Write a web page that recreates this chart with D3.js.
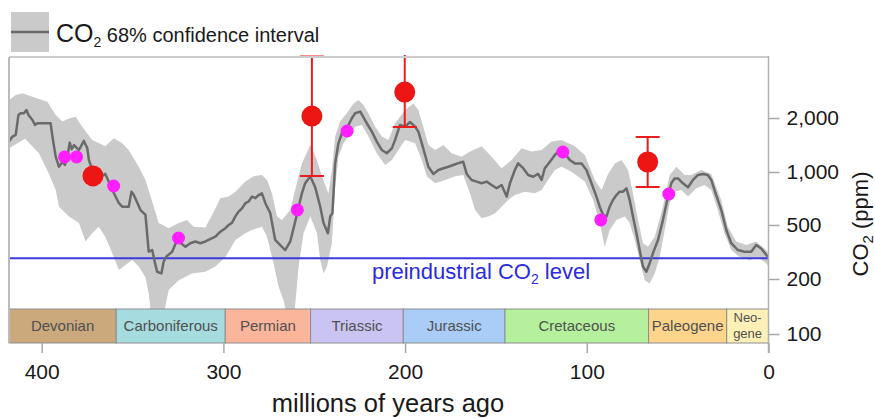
<!DOCTYPE html>
<html>
<head>
<meta charset="utf-8">
<script src="https://cdn.jsdelivr.net/npm/d3@7"></script>
<style>
  body { margin: 0; background: #fff; }
  svg { display: block; font-family: "Liberation Sans", Arial, sans-serif; }
</style>
</head>
<body>
<svg id="svg" width="875" height="419"></svg>
<script>
// CO2 reconstruction, [millions of years ago, ppm]
const co2Line = [[418,1480],[416.1,1576],[414.3,1610],[412.8,2080],[411.6,2125],[409.8,2125],[408.4,2215],[407.3,2080],[405.1,1950],[403.7,1830],[402.4,1870],[397.8,1870],[395.1,1870],[394.1,1576],[392.3,1216],[390.5,1070],[388.6,1140],[387.2,1094],[385.9,1216],[384.6,1458],[383.5,1340],[382.2,1414],[379.5,1326],[376.8,1490],[374.9,1355],[374.0,1166],[371.8,1004],[368.6,925],[365.0,975],[361.7,820],[360.3,760],[357.5,665],[355.7,635],[352.1,635],[350.6,773],[349.3,740],[345.6,608],[342.9,570],[341.1,318],[339.2,327],[337.8,268],[336.5,226],[334.1,220],[332.9,268],[331.5,292],[328.2,318],[325.5,388],[320.9,345],[318.2,367],[315.4,378],[312.7,367],[309.9,378],[304.4,410],[301.7,446],[298.9,474],[297.1,500],[295.3,514],[293.4,560],[291.6,596],[289.8,621],[287.9,665],[286.1,680],[284.3,725],[282.4,710],[280.6,740],[278.8,757],[276.9,665],[274.2,583],[271.5,388],[268.7,356],[266.0,327],[263.2,378],[260.5,522],[258.6,635],[256.8,757],[255.0,864],[252.2,945],[249.5,820],[246.7,635],[244.9,514],[242.5,434],[241.2,560],[240.0,583],[238.5,1117],[236.7,1445],[234.8,1645],[232.1,1750],[229.3,1995],[227.5,2125],[224.7,2170],[221.1,1870],[218.3,1680],[215.6,1477],[212.8,1326],[210.1,1272],[207.3,1355],[205.5,1510],[202.8,1830],[200.0,1790],[197.3,1900],[194.5,1790],[192.7,1680],[190.8,1445],[189.0,1244],[187.2,1070],[184.4,975],[181.7,1026],[178.9,1050],[176.2,1070],[173.5,1094],[170.7,1120],[168.0,1140],[166.1,975],[163.4,901],[160.6,882],[157.9,863],[155.1,882],[152.4,844],[149.6,808],[146.9,844],[144.1,725],[142.3,863],[139.6,1026],[137.8,1117],[135.0,1050],[132.3,962],[129.5,940],[126.8,975],[124.9,901],[123.1,1050],[120.3,1140],[117.6,1244],[114.8,1326],[112.1,1272],[109.4,1166],[106.6,1117],[102.9,1117],[100.2,1026],[97.4,863],[94.7,725],[92.9,635],[91.0,570],[89.2,558],[87.4,635],[85.6,694],[83.7,740],[81.9,773],[80.1,773],[78.2,808],[76.4,694],[74.6,558],[72.7,437],[70.9,327],[69.1,247],[67.2,226],[65.4,261],[63.6,310],[60.8,388],[58.1,534],[55.3,725],[53.5,863],[51.7,920],[49.8,920],[47.1,863],[44.3,820],[41.6,901],[38.8,962],[36.1,975],[33.4,962],[31.5,901],[29.7,790],[26.0,608],[23.2,459],[20.5,367],[16.9,327],[13.2,318],[9.5,318],[6.8,356],[4.0,336],[0.4,292]];

// 68% confidence interval edges
const bandUpper = [[418,2520],[414.3,2690],[410.6,2750],[405.1,2630],[396.9,2460],[392.3,2080],[388.6,1910],[385.0,1990],[381.4,2035],[377.7,1790],[372.2,1510],[365.0,1390],[360.3,1540],[355.7,1445],[352.1,1326],[346.6,1070],[342.9,901],[338.3,635],[335.6,514],[330.1,474],[324.6,514],[320.0,534],[316.4,486],[309.9,480],[304.4,621],[301.7,710],[297.1,725],[293.4,773],[287.9,882],[283.4,945],[278.8,962],[276.0,901],[273.3,757],[270.5,558],[267.8,534],[263.2,608],[260.5,790],[256.8,1117],[252.2,1414],[248.5,1166],[245.8,945],[242.2,757],[240.3,1026],[238.5,1576],[235.8,1910],[232.1,2125],[228.4,2410],[225.7,2520],[222.9,2360],[220.2,2125],[216.5,1790],[212.8,1576],[209.2,1510],[205.5,1870],[200.0,2215],[195.5,2410],[192.7,2215],[190.0,1790],[187.2,1414],[183.5,1326],[178.9,1414],[174.4,1272],[168.9,1216],[164.3,1300],[157.9,1390],[152.4,1216],[146.9,1050],[141.4,1166],[135.9,1355],[130.4,1300],[124.9,1326],[119.4,1477],[113.9,1510],[106.6,1390],[101.1,1244],[95.6,901],[91.9,790],[88.3,975],[84.6,1117],[80.9,1166],[77.3,1026],[74.6,757],[71.8,534],[69.1,367],[66.3,345],[62.6,410],[58.1,635],[54.4,962],[50.7,1070],[46.2,962],[42.5,962],[37.0,1026],[31.5,975],[26.0,694],[22.4,486],[17.7,378],[12.3,356],[6.8,378],[1.3,327],[0,310]];

const bandLower = [[418,1355],[409.2,1530],[401.5,1272],[396.0,975],[392.3,790],[390.5,635],[385.0,558],[379.5,514],[375.9,378],[372.2,434],[368.6,486],[365.0,410],[361.2,310],[357.5,233],[353.9,254],[350.2,276],[346.6,247],[342.9,206],[341.1,166],[339.2,115],[333.8,115],[330.1,174],[324.6,197],[317.3,220],[309.9,226],[304.4,247],[298.9,290],[293.4,388],[287.9,434],[284.3,459],[278.8,486],[276.0,410],[272.4,261],[269.6,181],[266.9,153],[264.1,115],[261.4,115],[258.6,247],[255.9,434],[252.2,558],[248.5,434],[246.7,276],[244.9,220],[243.0,247],[240.3,367],[238.5,820],[236.7,1216],[233.9,1445],[231.2,1576],[227.5,1790],[223.8,1830],[220.2,1576],[215.6,1272],[211.0,1094],[207.3,1166],[205.5,1244],[200.0,1510],[194.5,1445],[190.8,1166],[188.1,945],[183.5,863],[178.0,901],[172.5,945],[168.0,962],[164.3,757],[161.5,608],[157.9,546],[154.2,558],[150.5,583],[146.9,635],[143.3,694],[139.6,740],[134.1,773],[128.6,757],[124.9,790],[121.3,901],[117.6,1026],[113.9,1070],[108.4,1004],[101.1,882],[96.5,694],[92.9,514],[90.1,345],[87.4,459],[83.7,534],[79.1,558],[76.4,514],[73.6,388],[70.9,276],[68.1,197],[65.4,189],[62.6,220],[59.9,290],[57.1,459],[54.4,665],[51.7,773],[48.0,790],[44.3,725],[39.7,808],[35.2,844],[31.5,790],[27.9,608],[24.2,434],[20.5,327],[15.9,290],[10.4,276],[5.9,290],[1.3,261],[0,247]];

// proxy points
const redAge = [371.8, 251.3, 200.2, 66.5];
const redPpm = [950, 2050, 2790, 1137];
const redLow = [null, 950, 1780, 822];
const redHigh = [null, 4400, 6000, 1567];

const magentaAge = [387.4, 380.8, 360.4, 324.7, 259.3, 231.9, 113.2, 92.3, 54.9];
const magentaPpm = [1213, 1213, 833, 401, 609, 1692, 1293, 534, 750];

const preindustrial = 285;

const periodNames = ['Devonian', 'Carboniferous', 'Permian', 'Triassic', 'Jurassic', 'Cretaceous', 'Paleogene', 'Neo-|gene'];
const periodStart = [418, 359, 299, 252, 201, 145, 66, 23];
const periodEnd = [359, 299, 252, 201, 145, 66, 23, 0];
const periodColors = ['#cba97c', '#a6dbe0', '#fab59b', '#cac4f2', '#a9cdf6', '#b5f19d', '#fcd48c', '#fdf0b6'];

const xTicks = [400, 300, 200, 100, 0];
const yTicks = [100, 200, 500, 1000, 2000];

let config = {
   left: 9,
   right: 768.5,
   top: 57,
   barTop: 309,
   barBottom: 343
};

let svg = d3.select('#svg');

let x = d3.scaleLinear().domain([418, 0]).range([config.left, config.right]);
// tick spacing in the source is not a clean log; piecewise log keeps ticks where they are
let y = d3.scaleLog().domain(yTicks).range([334, 279, 225, 172, 118]);

let defs = svg.append('defs');
defs.append('clipPath').attr('id', 'plotClip')
   .append('rect')
   .attr('x', config.left).attr('y', config.top)
   .attr('width', config.right - config.left)
   .attr('height', config.barBottom - config.top);
defs.append('clipPath').attr('id', 'barClip')
   .append('rect')
   .attr('x', config.left).attr('y', config.top - 2)
   .attr('width', config.right - config.left)
   .attr('height', config.barBottom - config.top + 2);

let plot = svg.append('g').attr('clip-path', 'url(#plotClip)');

let line = d3.line().x(d => x(d[0])).y(d => y(d[1]));

// band
plot.append('path')
   .attr('d', line(bandUpper.concat(bandLower.slice().reverse())) + 'Z')
   .style('fill', '#cacaca')
   .style('stroke', 'none');

// preindustrial level
plot.append('line')
   .attr('x1', config.left).attr('x2', config.right)
   .attr('y1', y(preindustrial)).attr('y2', y(preindustrial))
   .style('stroke', '#3b3be0')
   .style('stroke-width', 2);

let pre = svg.append('text')
   .attr('x', 481).attr('y', 279)
   .attr('text-anchor', 'middle')
   .style('fill', '#2b2be0')
   .style('font-size', '22px');
pre.append('tspan').text('preindustrial CO');
pre.append('tspan').attr('dy', 5).style('font-size', '14px').text('2');
pre.append('tspan').attr('dy', -5).text(' level');

// main curve
plot.append('path')
   .attr('d', line(co2Line))
   .style('fill', 'none')
   .style('stroke', '#6a6a6a')
   .style('stroke-width', 2.5)
   .style('stroke-linejoin', 'round');

// magenta points
for (let i = 0; i < magentaAge.length; i++) {
   plot.append('circle')
      .attr('cx', x(magentaAge[i]))
      .attr('cy', y(magentaPpm[i]))
      .attr('r', 6.5)
      .style('fill', '#ff1eff');
}

// red points with error bars
let errG = svg.append('g').attr('clip-path', 'url(#barClip)');
for (let i = 0; i < redAge.length; i++) {
   let cx = x(redAge[i]);
   if (redLow[i] !== null) {
      let y1 = y(redLow[i]), y2 = y(redHigh[i]);
      errG.append('line')
         .attr('x1', cx).attr('x2', cx).attr('y1', y1).attr('y2', y2)
         .style('stroke', '#ee1c1c').style('stroke-width', 2);
      [y1, y2].forEach(yy => {
         errG.append('line')
            .attr('x1', cx - 12).attr('x2', cx + 12).attr('y1', yy).attr('y2', yy)
            .style('stroke', '#ee1c1c').style('stroke-width', 2);
      });
   }
   errG.append('circle')
      .attr('cx', cx)
      .attr('cy', y(redPpm[i]))
      .attr('r', 10.5)
      .style('fill', '#ee1515');
}

// geologic period bar
for (let i = 0; i < periodNames.length; i++) {
   let x0 = x(periodStart[i]), x1 = x(periodEnd[i]);
   svg.append('rect')
      .attr('x', x0).attr('y', config.barTop)
      .attr('width', x1 - x0)
      .attr('height', config.barBottom - config.barTop)
      .style('fill', periodColors[i])
      .style('stroke', '#8d8d8d')
      .style('stroke-width', 1);
   let parts = periodNames[i].split('|');
   let t = svg.append('text')
      .attr('x', (x0 + x1) / 2)
      .attr('text-anchor', 'middle')
      .style('fill', '#505050');
   if (parts.length == 1) {
      t.attr('y', 331).style('font-size', '15px').text(parts[0]);
   } else {
      t.style('font-size', '13px');
      t.append('tspan').attr('x', (x0 + x1) / 2).attr('y', 322).text(parts[0]);
      t.append('tspan').attr('x', (x0 + x1) / 2).attr('y', 338).text(parts[1]);
   }
}

// frame
svg.append('line')
   .attr('x1', config.left).attr('x2', config.right)
   .attr('y1', config.top).attr('y2', config.top)
   .style('stroke', '#cccccc').style('stroke-width', 2);
svg.append('line')
   .attr('x1', config.left).attr('x2', config.left)
   .attr('y1', config.top).attr('y2', config.barBottom)
   .style('stroke', '#bbbbbb').style('stroke-width', 2);
svg.append('line')
   .attr('x1', config.right).attr('x2', config.right)
   .attr('y1', config.top - 1).attr('y2', 353)
   .style('stroke', '#b0b0b0').style('stroke-width', 1.5);

// axes
let xAxis = svg.append('g')
   .attr('transform', 'translate(0,' + config.barBottom + ')')
   .call(d3.axisBottom(x).tickValues(xTicks).tickSize(10).tickPadding(11));
let yAxis = svg.append('g')
   .attr('transform', 'translate(' + config.right + ',0)')
   .call(d3.axisRight(y).tickValues(yTicks).tickSize(11).tickPadding(7).tickFormat(d3.format(',')));

[xAxis, yAxis].forEach(g => {
   g.select('.domain').remove();
   g.selectAll('.tick line').style('stroke', '#a8a8a8').style('stroke-width', 1.5);
   g.selectAll('.tick text')
      .style('font-family', '"Liberation Sans", Arial, sans-serif')
      .style('font-size', '21px')
      .style('fill', '#1a1a1a');
});

svg.append('text')
   .attr('x', 388).attr('y', 412)
   .attr('text-anchor', 'middle')
   .style('font-size', '25.5px')
   .style('fill', '#1a1a1a')
   .text('millions of years ago');

let yLabel = svg.append('text')
   .attr('transform', 'translate(868,224) rotate(-90)')
   .attr('text-anchor', 'middle')
   .style('font-size', '22px')
   .style('fill', '#1a1a1a');
yLabel.append('tspan').text('CO');
yLabel.append('tspan').attr('dy', 5).style('font-size', '15px').text('2');
yLabel.append('tspan').attr('dy', -5).text(' (ppm)');

// legend
svg.append('rect')
   .attr('x', 11).attr('y', 12)
   .attr('width', 38).attr('height', 40)
   .style('fill', '#cacaca');
svg.append('line')
   .attr('x1', 11).attr('x2', 49).attr('y1', 32).attr('y2', 32)
   .style('stroke', '#6a6a6a').style('stroke-width', 2.5);
let leg = svg.append('text')
   .attr('x', 56).attr('y', 42)
   .style('fill', '#1a1a1a')
   .style('font-size', '20px');
leg.append('tspan').style('font-size', '25px').text('CO');
leg.append('tspan').attr('dy', 5).style('font-size', '14px').text('2');
leg.append('tspan').attr('dy', -5).text(' 68% confidence interval');
</script>
</body>
</html>
